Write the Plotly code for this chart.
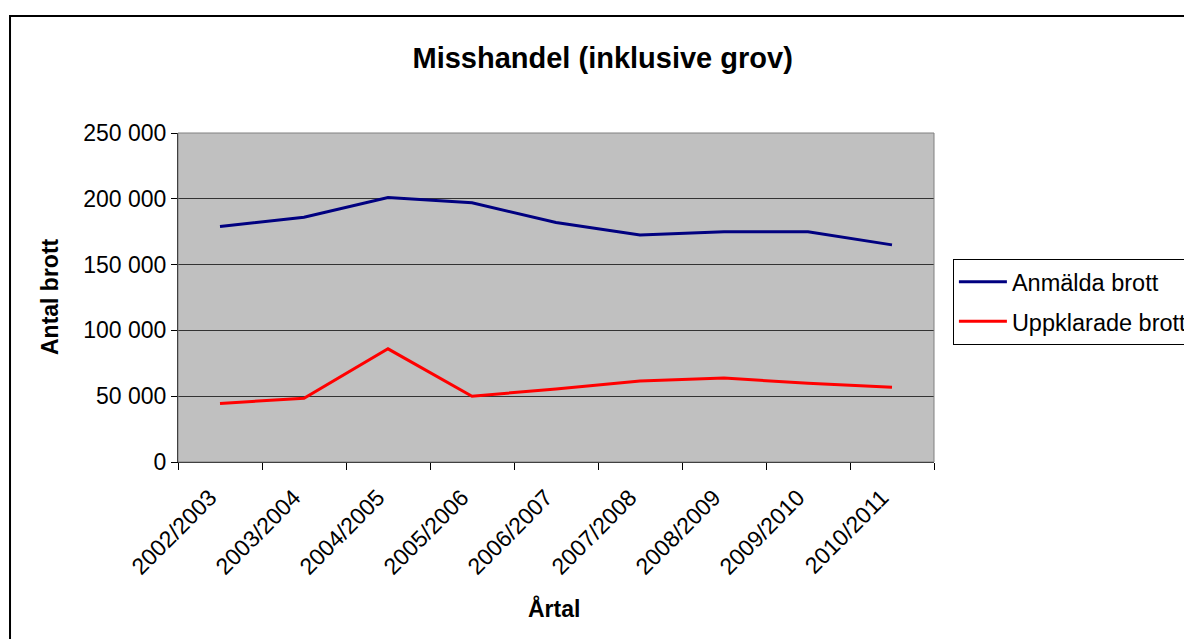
import plotly.graph_objects as go

# ── Data ─────────────────────────────────────────────────────────────────────
years = ["2002/2003", "2003/2004", "2004/2005", "2005/2006", "2006/2007",
         "2007/2008", "2008/2009", "2009/2010", "2010/2011"]
anmalda = [179000, 186000, 201000, 197000, 182000, 172500, 175000, 175000, 165000]
uppklarade = [44500, 48500, 86000, 50000, 55500, 61500, 63800, 59800, 56800]

FONT = "Liberation Sans, Arial, sans-serif"

fig = go.Figure()
fig.add_trace(go.Scatter(x=years, y=anmalda, name="Anmälda brott", mode="lines",
                         line=dict(color="#000080", width=3), legendgroup="a"))
fig.add_trace(go.Scatter(x=years, y=uppklarade, name="Uppklarade brott", mode="lines",
                         line=dict(color="#FF0000", width=3), legendgroup="b"))

_AXIS = dict(
    showline=True, linecolor="#000000", linewidth=1,
    ticks="outside", tickcolor="#000000", tickwidth=1,
    tickfont=dict(family=FONT, size=23, color="#000000"),
    zeroline=False,
)

fig.update_layout(
    width=1184, height=639,
    paper_bgcolor="#FFFFFF",
    plot_bgcolor="#C0C0C0",
    separators=", ",
    margin=dict(l=178, r=250, t=133, b=177, autoexpand=False),
    font=dict(family=FONT, size=23, color="#000000"),
    title=dict(text="<b>Misshandel (inklusive grov)</b>", x=0.509, y=0.909,
               xanchor="center", yanchor="middle",
               font=dict(family=FONT, size=29, color="#000000")),
    xaxis=dict(**_AXIS, tickson="boundaries", ticklen=7, tickangle=-45,
               ticklabelstandoff=12, ticklabelshift=-10,
               range=[-0.5, 8.5], showgrid=False, automargin=False),
    yaxis=dict(**_AXIS, range=[0, 250000], dtick=50000, tickformat=",d", ticklen=6,
               showgrid=True, gridcolor="#333333", gridwidth=1, automargin=False),
    legend=dict(x=1.025, y=0.617, xanchor="left", yanchor="top",
                bordercolor="#000000", borderwidth=1, bgcolor="#FFFFFF",
                traceorder="grouped", tracegroupgap=6, itemwidth=48,
                font=dict(family=FONT, size=23.5, color="#000000")),
    showlegend=True,
    annotations=[
        dict(text="<b>Antal brott</b>", xref="paper", yref="paper", x=-0.1693, y=0.5015,
             textangle=-90, showarrow=False, xanchor="center", yanchor="middle",
             font=dict(family=FONT, size=23)),
        dict(text="<b>Årtal</b>", xref="paper", yref="paper", x=0.497, y=-0.444,
             showarrow=False, xanchor="center", yanchor="middle",
             font=dict(family=FONT, size=23)),
    ],
    shapes=[
        # plot area border
        dict(type="rect", xref="paper", yref="paper", x0=0, y0=0, x1=1, y1=1,
             line=dict(color="#808080", width=1), layer="above"),
        # outer chart frame
        dict(type="rect", xref="paper", yref="paper", x0=-0.2222, y0=-0.7, x1=1.4, y1=1.3556,
             line=dict(color="#000000", width=2)),
    ],
)

fig.write_html("out.html", config={"displayModeBar": False},
               post_script="document.body.style.margin='0';")
